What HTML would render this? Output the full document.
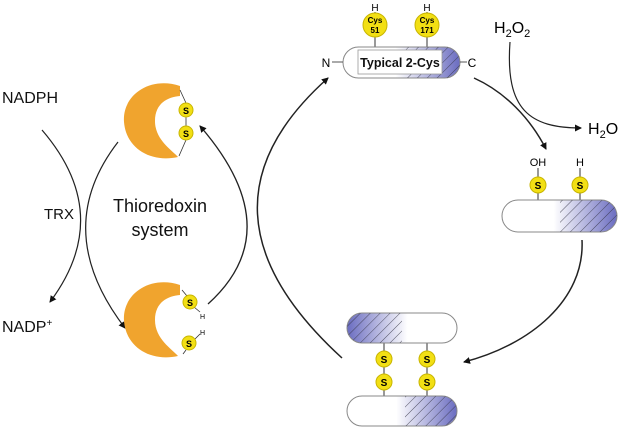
<!DOCTYPE html>
<html><head><meta charset="utf-8"><style>
html,body{margin:0;padding:0;background:#fff;}
svg{display:block;font-family:"Liberation Sans",sans-serif;}
</style></head><body>
<svg width="625" height="433" viewBox="0 0 625 433" xmlns="http://www.w3.org/2000/svg">
<defs>
<marker id="ah" markerWidth="8" markerHeight="8" refX="6" refY="4" orient="auto" markerUnits="userSpaceOnUse"><path d="M0,0.5 L7,4 L0,7.5 Z" fill="#111"/></marker>
<linearGradient id="g1" x1="0" x2="1"><stop offset="0" stop-color="#fff"/><stop offset="0.45" stop-color="#fff"/><stop offset="1" stop-color="#6a6cc0"/></linearGradient>
<linearGradient id="g2" x1="1" x2="0"><stop offset="0" stop-color="#fff"/><stop offset="0.45" stop-color="#fff"/><stop offset="1" stop-color="#6a6cc0"/></linearGradient>
<pattern id="h" width="7" height="7" patternUnits="userSpaceOnUse" patternTransform="rotate(45)"><line x1="0" y1="0" x2="0" y2="7" stroke="#334" stroke-width="0.8"/></pattern>
<clipPath id="c1"><rect x="405" y="47" width="60" height="32"/></clipPath>
</defs>
<text x="2" y="103" font-size="16" fill="#111">NADPH</text>
<text x="44" y="219" font-size="15" fill="#111">TRX</text>
<text x="2" y="332" font-size="16" fill="#111">NADP<tspan font-size="10" dy="-6">+</tspan></text>
<text x="160" y="212" font-size="18" text-anchor="middle" fill="#111">Thioredoxin</text>
<text x="160" y="236" font-size="18" text-anchor="middle" fill="#111">system</text>
<path d="M42,130 Q115,215 50,302" fill="none" stroke="#222" stroke-width="1.2" marker-end="url(#ah)"/>
<path d="M118,142 Q50,230 125,328" fill="none" stroke="#222" stroke-width="1.2" marker-end="url(#ah)"/>
<path d="M208,304 Q290,230 200,126" fill="none" stroke="#222" stroke-width="1.3" marker-end="url(#ah)"/>
<path d="M342,358 Q180,210 328,78" fill="none" stroke="#222" stroke-width="1.5" marker-end="url(#ah)"/>
<path d="M180,86 C150,76 122,95 124,122 C126,148 150,163 178,157 C172,150 155,140 155,121 C155,103 168,97 180,96 Z" fill="#f0a42e"/>
<path d="M180,90 L186,103 M186,117 L186,126 M186,140 L179,156" stroke="#333" stroke-width="0.8" fill="none"/>
<circle cx="186" cy="110" r="7" fill="#f2df14" stroke="#c8b500"/><text x="186" y="114" font-size="9" text-anchor="middle" font-weight="bold">S</text>
<circle cx="186" cy="133" r="7" fill="#f2df14" stroke="#c8b500"/><text x="186" y="137" font-size="9" text-anchor="middle" font-weight="bold">S</text>
<g transform="translate(0,199)"><path d="M180,86 C150,76 122,95 124,122 C126,148 150,163 178,157 C172,150 155,140 155,121 C155,103 168,97 180,96 Z" fill="#f0a42e"/></g>
<path d="M182,290 L187,296 M194,307 L200,312 M195,339 L200,334 M183,354 L186,350" stroke="#333" stroke-width="0.8" fill="none"/>
<circle cx="190" cy="302" r="7" fill="#f2df14" stroke="#c8b500"/><text x="190" y="306" font-size="9" text-anchor="middle" font-weight="bold">S</text>
<circle cx="189" cy="343" r="7" fill="#f2df14" stroke="#c8b500"/><text x="189" y="347" font-size="9" text-anchor="middle" font-weight="bold">S</text>
<text x="200" y="319" font-size="7">H</text>
<text x="200" y="335" font-size="7">H</text>
<line x1="375" y1="36" x2="375" y2="48" stroke="#333"/><line x1="427" y1="36" x2="427" y2="48" stroke="#333"/>
<text x="375" y="11" font-size="10" text-anchor="middle">H</text><text x="427" y="11" font-size="10" text-anchor="middle">H</text>
<line x1="375" y1="12" x2="375" y2="14" stroke="#333"/><line x1="427" y1="12" x2="427" y2="14" stroke="#333"/>
<circle cx="375" cy="25" r="12" fill="#f2df14" stroke="#c8b500"/><circle cx="427" cy="25" r="12" fill="#f2df14" stroke="#c8b500"/>
<text x="375" y="23" font-size="8" text-anchor="middle" font-weight="bold">Cys</text><text x="375" y="33" font-size="8" text-anchor="middle" font-weight="bold">51</text>
<text x="427" y="23" font-size="8" text-anchor="middle" font-weight="bold">Cys</text><text x="427" y="33" font-size="8" text-anchor="middle" font-weight="bold">171</text>
<rect x="343" y="47" width="117" height="31" rx="15.5" fill="url(#g1)" stroke="#888"/>
<rect x="343" y="47" width="117" height="31" rx="15.5" fill="url(#h)" clip-path="url(#c1)"/>
<rect x="358" y="50" width="84" height="24" fill="#fff" stroke="#999" stroke-width="0.8"/>
<text x="400" y="67" font-size="12.5" font-weight="bold" text-anchor="middle" fill="#111">Typical 2-Cys</text>
<text x="326" y="67" font-size="12" text-anchor="middle">N</text><line x1="332" y1="62" x2="343" y2="62" stroke="#555"/>
<text x="472" y="67" font-size="12" text-anchor="middle">C</text><line x1="460" y1="62" x2="467" y2="62" stroke="#555"/>
<text x="494" y="33" font-size="16">H<tspan font-size="11" dy="4">2</tspan><tspan dy="-4">O</tspan><tspan font-size="11" dy="4">2</tspan></text>
<text x="588" y="134" font-size="16">H<tspan font-size="11" dy="4">2</tspan><tspan dy="-4">O</tspan></text>
<path d="M510,42 C505,110 530,128 581,128" fill="none" stroke="#222" stroke-width="1.2" marker-end="url(#ah)"/>
<path d="M474,78 C505,92 530,118 546,149" fill="none" stroke="#222" stroke-width="1.5" marker-end="url(#ah)"/>
<text x="538" y="166" font-size="11" text-anchor="middle">OH</text><text x="580" y="166" font-size="11" text-anchor="middle">H</text>
<line x1="538" y1="168" x2="538" y2="201" stroke="#333"/><line x1="580" y1="168" x2="580" y2="201" stroke="#333"/>
<circle cx="538" cy="185" r="8" fill="#f2df14" stroke="#c8b500"/><text x="538" y="189" font-size="10" text-anchor="middle" font-weight="bold">S</text>
<circle cx="580" cy="185" r="8" fill="#f2df14" stroke="#c8b500"/><text x="580" y="189" font-size="10" text-anchor="middle" font-weight="bold">S</text>
<rect x="502" y="200" width="115" height="32" rx="16" fill="url(#g1)" stroke="#888"/>
<rect x="560" y="200" width="57" height="32" fill="url(#h)" clip-path="inset(0 0 0 0 round 0 16px 16px 0)"/>
<path d="M582,240 C585,300 530,345 464,362" fill="none" stroke="#222" stroke-width="1.5" marker-end="url(#ah)"/>
<line x1="384" y1="343" x2="384" y2="396" stroke="#333"/><line x1="427" y1="343" x2="427" y2="396" stroke="#333"/>
<rect x="347" y="313" width="110" height="30" rx="15" fill="url(#g2)" stroke="#888"/>
<rect x="347" y="313" width="55" height="30" fill="url(#h)" clip-path="inset(0 0 0 0 round 15px 0 0 15px)"/>
<rect x="347" y="396" width="110" height="30" rx="15" fill="url(#g1)" stroke="#888"/>
<rect x="405" y="396" width="52" height="30" fill="url(#h)" clip-path="inset(0 0 0 0 round 0 15px 15px 0)"/>
<g font-size="10" font-weight="bold" text-anchor="middle">
<circle cx="384" cy="359" r="8" fill="#f2df14" stroke="#c8b500"/><text x="384" y="363">S</text>
<circle cx="384" cy="382" r="8" fill="#f2df14" stroke="#c8b500"/><text x="384" y="386">S</text>
<circle cx="427" cy="359" r="8" fill="#f2df14" stroke="#c8b500"/><text x="427" y="363">S</text>
<circle cx="427" cy="382" r="8" fill="#f2df14" stroke="#c8b500"/><text x="427" y="386">S</text>
</g>
</svg>
</body></html>
